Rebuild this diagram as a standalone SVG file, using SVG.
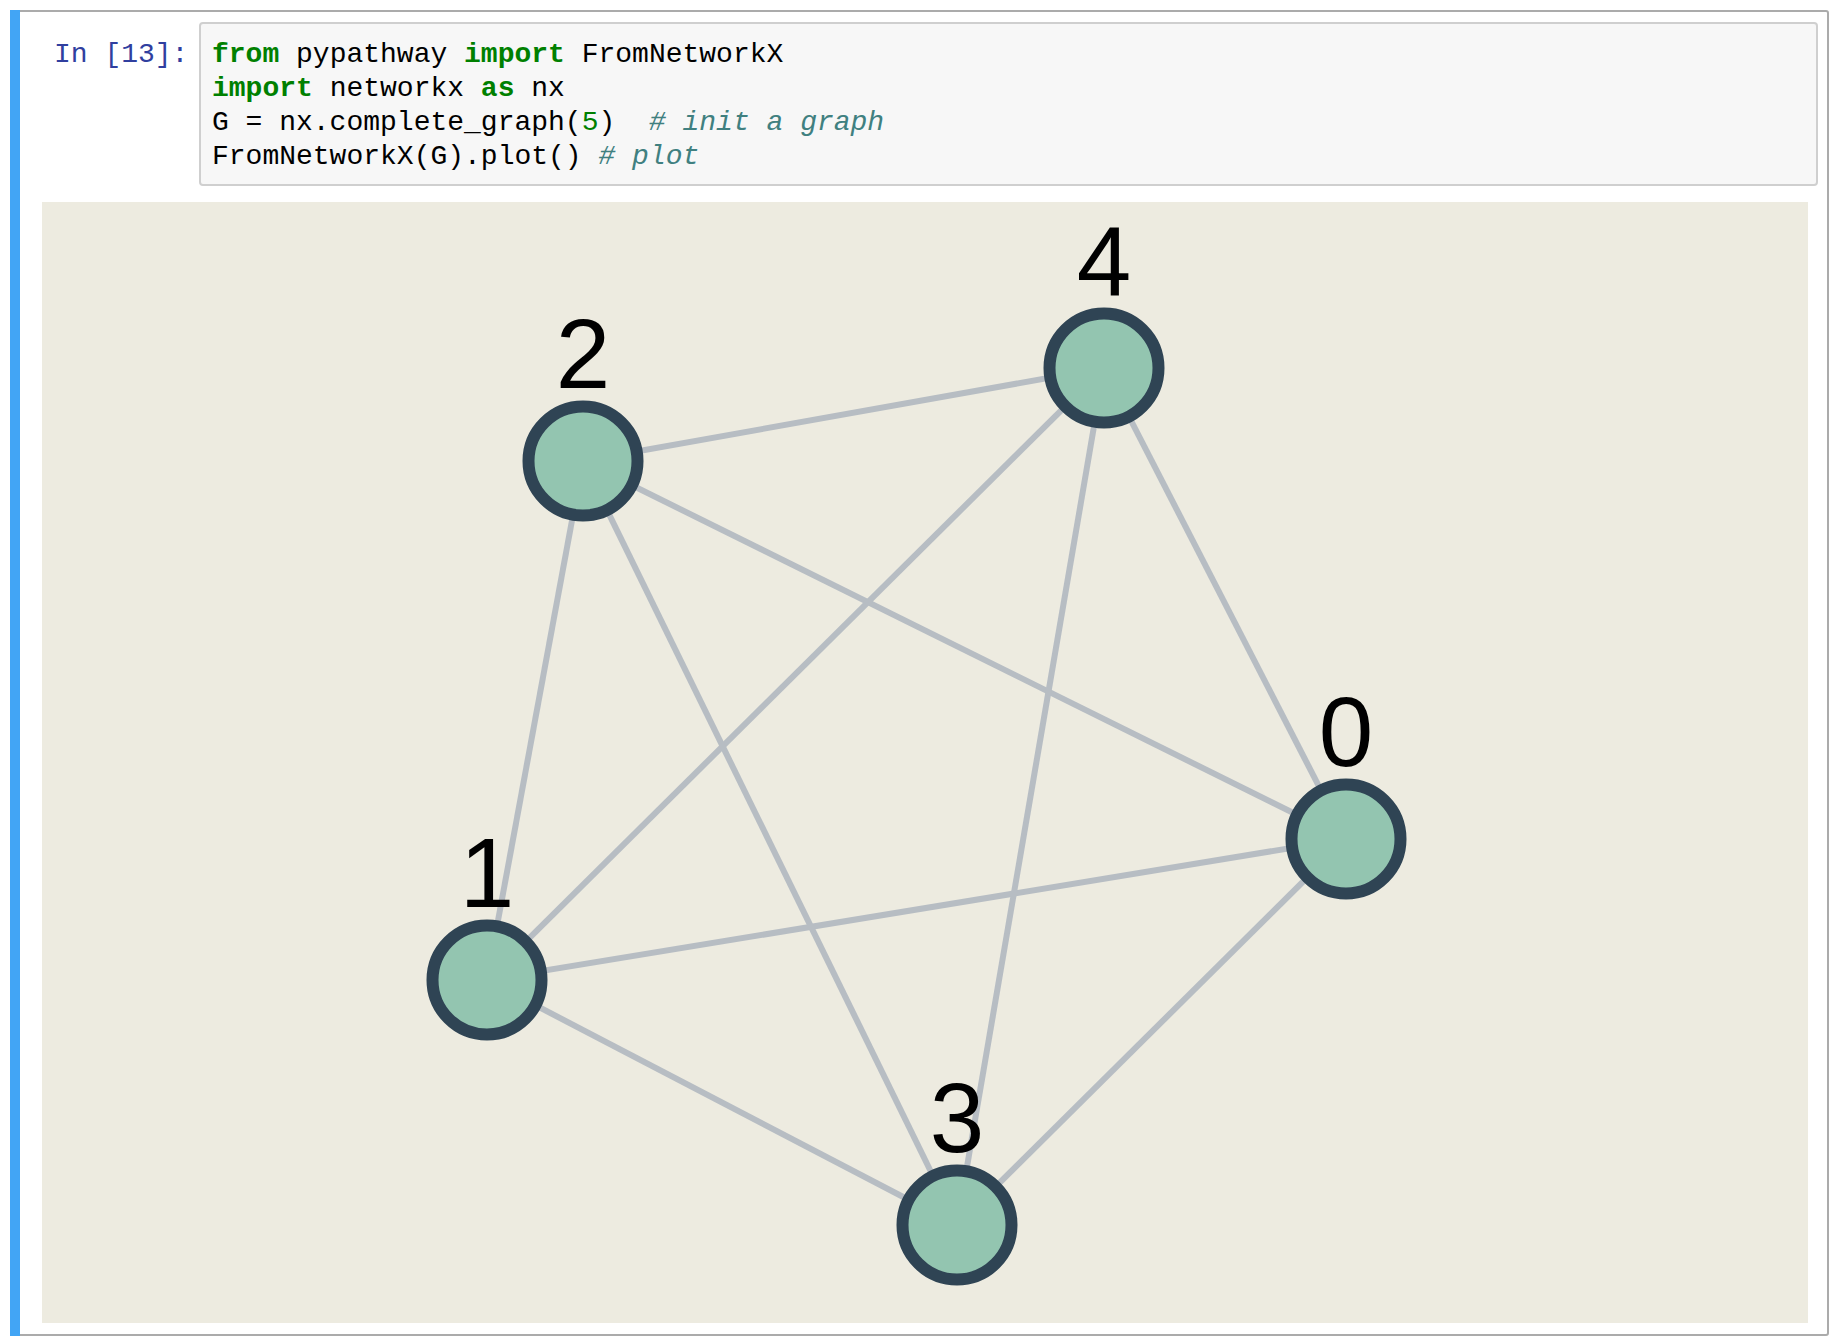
<svg xmlns="http://www.w3.org/2000/svg" width="1836" height="1344" viewBox="0 0 1836 1344">
<style>
.code{font-family:"Liberation Mono","DejaVu Sans Mono",monospace;font-size:28px;fill:#000}
.kw{fill:#008000;font-weight:bold}
.num{fill:#008000}
.cm{fill:#408080;font-style:italic}
.prompt{font-family:"Liberation Mono","DejaVu Sans Mono",monospace;font-size:28px;fill:#303f9f}
.edge{stroke:#b7bdc3;stroke-width:6;fill:none}
.node circle{fill:#93c5b0;stroke:#2f4454;stroke-width:12}
.node text{font-family:"Liberation Sans",Arial,sans-serif;font-size:98px;fill:#000;text-anchor:middle}
</style>
<rect x="0" y="0" width="1836" height="1344" fill="#ffffff"/>
<rect x="11" y="11" width="1817" height="1324" rx="2" fill="#ffffff" stroke="#ababab" stroke-width="2"/>
<rect x="10" y="10" width="10" height="1326" fill="#42a5f5"/>
<text class="prompt" x="54" y="62">In [13]:</text>
<rect id="code" x="200" y="23" width="1617" height="162" rx="3" fill="#f7f7f7" stroke="#cfcfcf" stroke-width="2"/>
<text class="code" x="212" y="62"><tspan class="kw">from</tspan> pypathway <tspan class="kw">import</tspan> FromNetworkX</text>
<text class="code" x="212" y="96"><tspan class="kw">import</tspan> networkx <tspan class="kw">as</tspan> nx</text>
<text class="code" x="212" y="130" xml:space="preserve">G = nx.complete_graph(<tspan class="num">5</tspan>)  <tspan class="cm"># init a graph</tspan></text>
<text class="code" x="212" y="164">FromNetworkX(G).plot() <tspan class="cm"># plot</tspan></text>
<rect id="output" x="42" y="202" width="1766" height="1121" fill="#edebe0"/>
<g id="edges">
<line class="edge" x1="1346" y1="839" x2="487" y2="980"/>
<line class="edge" x1="1346" y1="839" x2="583" y2="461"/>
<line class="edge" x1="1346" y1="839" x2="957" y2="1225"/>
<line class="edge" x1="1346" y1="839" x2="1104" y2="368"/>
<line class="edge" x1="487" y1="980" x2="583" y2="461"/>
<line class="edge" x1="487" y1="980" x2="957" y2="1225"/>
<line class="edge" x1="487" y1="980" x2="1104" y2="368"/>
<line class="edge" x1="583" y1="461" x2="957" y2="1225"/>
<line class="edge" x1="583" y1="461" x2="1104" y2="368"/>
<line class="edge" x1="957" y1="1225" x2="1104" y2="368"/>
</g>
<g id="node0" class="node"><circle cx="1346" cy="839" r="54.5"/><text x="1346" y="766">0</text></g>
<g id="node1" class="node"><circle cx="487" cy="980" r="54.5"/><text x="487" y="907">1</text></g>
<g id="node2" class="node"><circle cx="583" cy="461" r="54.5"/><text x="583" y="388">2</text></g>
<g id="node3" class="node"><circle cx="957" cy="1225" r="54.5"/><text x="957" y="1152">3</text></g>
<g id="node4" class="node"><circle cx="1104" cy="368" r="54.5"/><text x="1104" y="295">4</text></g>
</svg>
